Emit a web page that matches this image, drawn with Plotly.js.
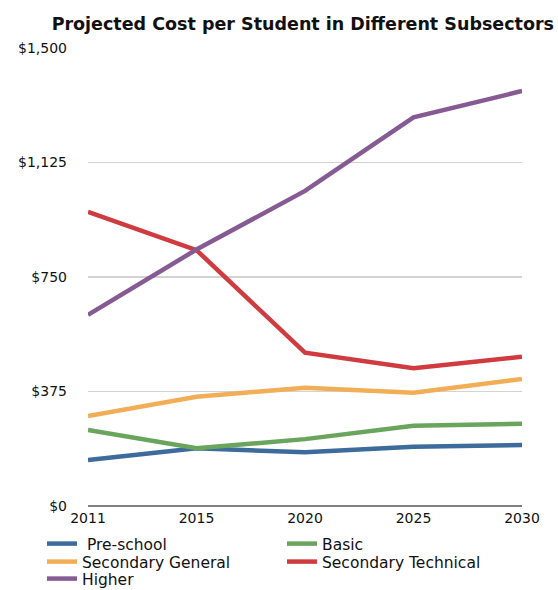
<!DOCTYPE html>
<html>
<head>
<meta charset="utf-8">
<script src="https://cdn.plot.ly/plotly-3.0.1.min.js"></script>
<style>html,body{margin:0;padding:0;background:#fff;}#chart{width:558px;height:590px;}</style>
</head>
<body>
<div id="chart"></div>
<script>
const years = ['2011', '2015', '2020', '2025', '2030'];
const preSchool = [151, 189, 176, 194, 200];
const basic = [249, 189, 219, 263, 269];
const secondaryGeneral = [295, 358, 387, 371, 416];
const secondaryTechnical = [963, 838, 502, 451, 489];
const higher = [626, 840, 1032, 1273, 1359];
const yTicks = [0, 375, 750, 1125, 1500];
const yTickLabels = ['$0', '$375', '$750', '$1,125', '$1,500'];

const series = [
  {name: ' Pre-school', y: preSchool, color: '#3d6b9b', legend: 'legend'},
  {name: 'Basic', y: basic, color: '#69a55c', legend: 'legend'},
  {name: 'Secondary General', y: secondaryGeneral, color: '#f1ae57', legend: 'legend2'},
  {name: 'Secondary Technical', y: secondaryTechnical, color: '#d03b40', legend: 'legend2'},
  {name: 'Higher', y: higher, color: '#865a92', legend: 'legend3'}
];

const traces = series.map(s => ({
  type: 'scatter', mode: 'lines', x: years, y: s.y, name: s.name, legend: s.legend,
  line: {color: s.color, width: 4.5}
}));

const F = 'DejaVu Sans, Verdana, sans-serif';
const legendBase = (y) => ({orientation: 'h', x: -0.106, xanchor: 'left', y: y, yanchor: 'middle',
  font: {size: 15.5, color: '#111', family: F}, entrywidth: 195, entrywidthmode: 'pixels',
  itemwidth: 30, bgcolor: 'rgba(0,0,0,0)', borderwidth: 0});

const layout = {
  width: 558, height: 590,
  margin: {l: 88, r: 36, t: 48, b: 84, autoexpand: false},
  paper_bgcolor: '#fff', plot_bgcolor: '#fff',
  font: {family: F, color: '#111'},
  title: {text: '<b>Projected Cost per Student in Different Subsectors</b>',
    font: {size: 17.5, color: '#111', family: F}, x: 0.495, xref: 'paper', xanchor: 'center',
    y: 22, yref: 'container', yanchor: 'middle'},
  xaxis: {type: 'category', range: [0, 4], showgrid: false, zeroline: false, showline: false,
    ticks: '', tickfont: {size: 14, color: '#111', family: F}, ticklabelstandoff: 2},
  yaxis: {range: [0, 1500], tickvals: yTicks, ticktext: yTickLabels, showgrid: true,
    gridcolor: '#d3d3d3', gridwidth: 1.5, zeroline: true, zerolinecolor: '#808080', zerolinewidth: 2,
    ticks: '', tickfont: {size: 14, color: '#111', family: F}, ticklabelstandoff: 20},
  showlegend: true,
  legend: legendBase(-0.0830),
  legend2: legendBase(-0.1223),
  legend3: legendBase(-0.1594)
};

Plotly.newPlot('chart', traces, layout, {displayModeBar: false, staticPlot: true});
</script>
</body>
</html>
